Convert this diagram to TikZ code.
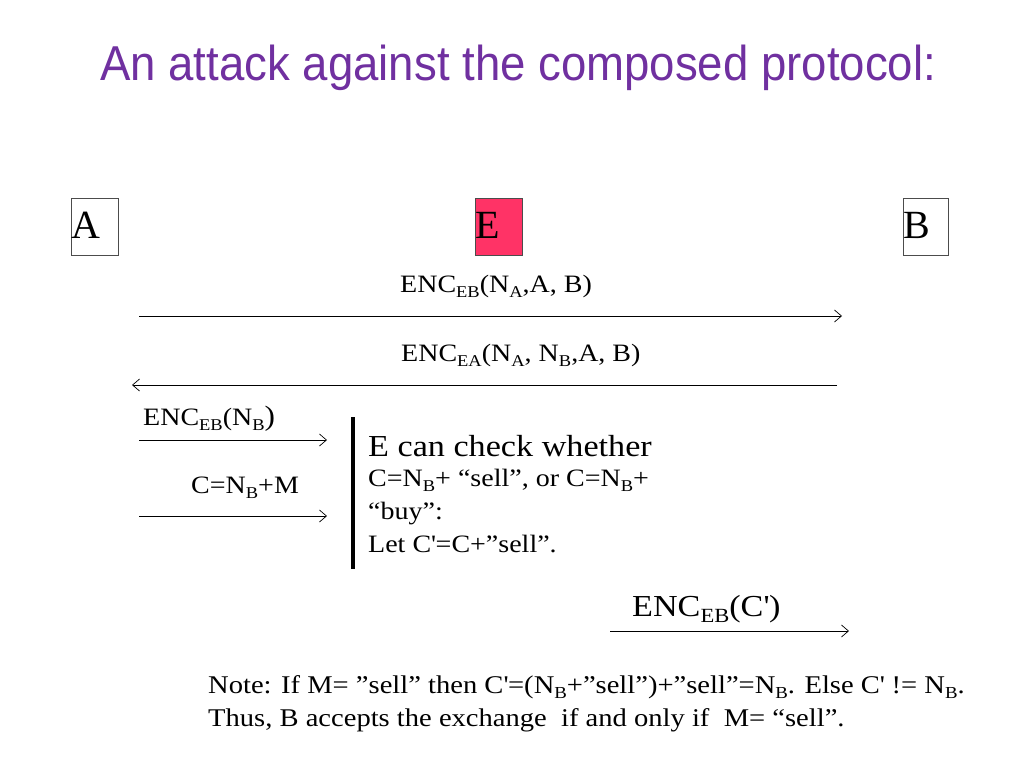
\documentclass[tikz,border=0pt]{standalone}
\usepackage{fontspec}
\usepackage{graphicx}
\setmainfont{Liberation Serif}[FakeStretch=1.12]
\newfontfamily\plainserif{Liberation Serif}
\newfontfamily\titlefont{Liberation Sans}[FakeStretch=0.93]
\usetikzlibrary{arrows.meta}
\definecolor{titlepurple}{RGB}{112,48,160}
\definecolor{epink}{RGB}{255,51,102}
\newcommand{\sbs}[1]{\raisebox{-0.2em}{\scalebox{0.66}{#1}}}
\newcommand{\apos}{\textquotesingle}
\tikzset{
  party/.style={draw=black!70, line width=0.8pt, minimum width=47pt, minimum height=57pt, inner sep=0pt},
  partylabel/.style={anchor=base west, inner sep=0pt, font=\plainserif\fontsize{40}{42}\selectfont},
  msg/.style={line width=0.7pt, -{Straight Barb[length=7pt,width=12pt,line width=0.7pt]}},
  lbl/.style={anchor=base west, inner sep=0pt, font=\fontsize{25}{28}\selectfont},
  notelbl/.style={anchor=base west, inner sep=0pt, font=\fontsize{25.5}{28}\selectfont},
  biglbl/.style={anchor=base west, inner sep=0pt, font=\fontsize{30.5}{32}\selectfont},
}
\begin{document}
\begin{tikzpicture}[x=1pt,y=-1pt]
\useasboundingbox (0,0) rectangle (1024,768);
% title
\node[anchor=base west, inner sep=0pt, text=titlepurple, font=\titlefont\fontsize{49}{52}\selectfont] (title) at (100,80) {An attack against the composed protocol:};
% parties
\node[party, anchor=north west] (A) at (71,198) {};
\node[partylabel] (Al) at (71,238) {A};
\node[party, fill=epink, anchor=north west] (E) at (475,198) {};
\node[partylabel] (El) at (475,238) {E};
\node[party, anchor=north west, minimum width=45pt] (B) at (903,198) {};
\node[partylabel] (Bl) at (903,238) {B};
% message 1
\coordinate (m1s) at (139,316);
\coordinate (m1e) at (842,316);
\draw[msg] (m1s) -- (m1e);
\node[lbl] (l1) at (400,292) {ENC\sbs{EB}(N\sbs{A},A, B)};
% message 2
\coordinate (m2s) at (837,385);
\coordinate (m2e) at (132,385);
\draw[msg] (m2s) -- (m2e);
\node[lbl] (l2) at (401,361) {ENC\sbs{EA}(N\sbs{A}, N\sbs{B},A, B)};
% message 3
\coordinate (m3s) at (139,440);
\coordinate (m3e) at (327,440);
\draw[msg] (m3s) -- (m3e);
\node[lbl] (l3) at (143,425) {ENC\sbs{EB}(N\sbs{B}{\fontsize{28}{30}\selectfont)}};
% message 4
\coordinate (m4s) at (139,516);
\coordinate (m4e) at (327,516);
\draw[msg] (m4s) -- (m4e);
\node[lbl] (l4) at (191,493) {C=N\sbs{B}+M};
% bar
\coordinate (bt) at (353,417);
\coordinate (bb) at (353,569);
\draw[line width=4.5pt] (bt) -- (bb);
% E's note
\node[biglbl] (t1) at (368,456) {E can check whether};
\node[lbl] (t2) at (368,486) {C=N\sbs{B}+ “sell”, or C=N\sbs{B}+};
\node[lbl] (t3) at (368,519) {“buy”:};
\node[lbl] (t4) at (368,552) {Let C\apos=C+”sell”.};
% message 5
\node[biglbl] (l5) at (632,616) {ENC\sbs{EB}(C\apos)};
\coordinate (m5s) at (610,631);
\coordinate (m5e) at (849,631);
\draw[msg] (m5s) -- (m5e);
% note
\node[notelbl] (n1) at (208,693) {Note: If M= ”sell” then C\apos=(N\sbs{B}+”sell”)+”sell”=N\sbs{B}. Else C\apos\ != N\sbs{B}.};
\node[notelbl] (n2) at (208,726) {Thus, B accepts the exchange\ \ if and only if\ \ M= “sell”.};
\end{tikzpicture}
\end{document}
